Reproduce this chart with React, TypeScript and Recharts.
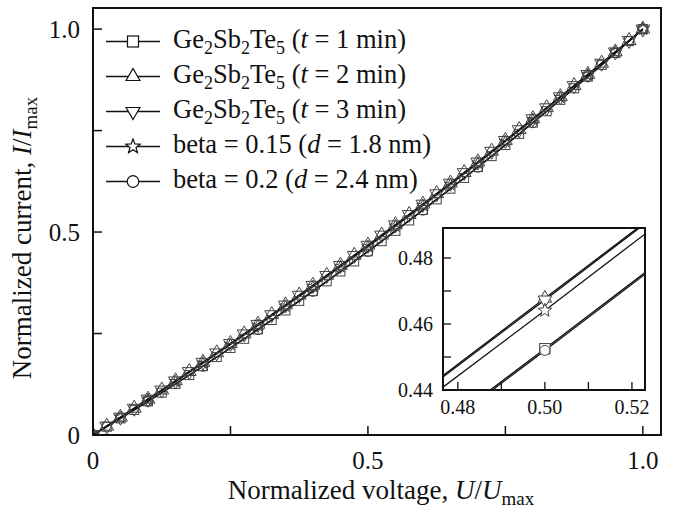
import React from 'react';
import { LineChart, Line, XAxis, YAxis, ReferenceArea } from 'recharts';

const SERIF = "'Liberation Serif', 'Times New Roman', Tinos, serif";
const INK = '#111';
const MARK = '#444';

// ---------- data (normalized voltage U/Umax, normalized current I/Imax) ----------
const voltageFine = [0, 0.025, 0.05, 0.075, 0.1, 0.125, 0.15, 0.175, 0.2, 0.225, 0.25, 0.275, 0.3, 0.325, 0.35, 0.375, 0.4, 0.425, 0.45, 0.475, 0.5, 0.525, 0.55, 0.575, 0.6, 0.625, 0.65, 0.675, 0.7, 0.725, 0.75, 0.775, 0.8, 0.825, 0.85, 0.875, 0.9, 0.925, 0.95, 0.975, 1.0];
const voltageHalf = [0, 0.05, 0.1, 0.15, 0.2, 0.25, 0.3, 0.35, 0.4, 0.45, 0.5, 0.55, 0.6, 0.65, 0.7, 0.75, 0.8, 0.85, 0.9, 0.95, 1.0];
const voltageTenth = [0, 0.1, 0.2, 0.3, 0.4, 0.5, 0.6, 0.7, 0.8, 0.9, 1.0];

const currentT1 = [0, 0.0204, 0.041, 0.0618, 0.0829, 0.1042, 0.1258, 0.1476, 0.1696, 0.1919, 0.2144, 0.2371, 0.2601, 0.2833, 0.3068, 0.3305, 0.3544, 0.3786, 0.403, 0.4276, 0.4525, 0.4776, 0.503, 0.5286, 0.5544, 0.5805, 0.6068, 0.6333, 0.6601, 0.6871, 0.7144, 0.7419, 0.7696, 0.7976, 0.8258, 0.8542, 0.8829, 0.9118, 0.941, 0.9704, 1.0];
const currentT2 = [0, 0.0219, 0.0439, 0.0661, 0.0884, 0.1109, 0.1336, 0.1564, 0.1794, 0.2025, 0.2258, 0.2493, 0.2729, 0.2967, 0.3207, 0.3448, 0.369, 0.3935, 0.4181, 0.4428, 0.4678, 0.4928, 0.5181, 0.5435, 0.569, 0.5948, 0.6207, 0.6467, 0.6729, 0.6993, 0.7258, 0.7525, 0.7794, 0.8064, 0.8336, 0.8609, 0.8884, 0.9161, 0.9439, 0.9719, 1.0];
const currentT3 = [0, 0.0218, 0.0438, 0.0659, 0.0882, 0.1107, 0.1333, 0.1561, 0.1791, 0.2022, 0.2255, 0.2489, 0.2725, 0.2963, 0.3202, 0.3443, 0.3686, 0.393, 0.4176, 0.4424, 0.4673, 0.4924, 0.5176, 0.543, 0.5686, 0.5943, 0.6202, 0.6463, 0.6725, 0.6989, 0.7255, 0.7522, 0.7791, 0.8061, 0.8333, 0.8607, 0.8882, 0.9159, 0.9438, 0.9718, 1.0];
const currentBeta015 = [0, 0.0432, 0.0871, 0.1317, 0.177, 0.2231, 0.2698, 0.3173, 0.3655, 0.4145, 0.4641, 0.5145, 0.5655, 0.6173, 0.6698, 0.7231, 0.777, 0.8317, 0.8871, 0.9432, 1.0];
const currentBeta02 = [0, 0.0827, 0.1693, 0.2597, 0.3539, 0.452, 0.5539, 0.6597, 0.7693, 0.8827, 1.0];

const mainXTicks = [0, 0.25, 0.5, 0.75, 1.0];
const mainYTicks = [0, 0.25, 0.5, 0.75, 1.0];
const mainTickLabels: [number, string][] = [[0, '0'], [0.5, '0.5'], [1.0, '1.0']];
const insetXTicks = [0.48, 0.49, 0.5, 0.51, 0.52];
const insetYTicks = [0.44, 0.45, 0.46, 0.47, 0.48];
const insetXLabels: [number, string][] = [[0.48, '0.48'], [0.5, '0.50'], [0.52, '0.52']];
const insetYLabels: [number, string][] = [[0.44, '0.44'], [0.46, '0.46'], [0.48, '0.48']];

const MAIN_X_DOMAIN: [number, number] = [0, 1.033];
const MAIN_Y_DOMAIN: [number, number] = [0, 1.052];
const INSET_X_DOMAIN: [number, number] = [0.4766, 0.523];
const INSET_Y_DOMAIN: [number, number] = [0.44, 0.4891];

type Shape = 'square' | 'up' | 'down' | 'star' | 'circle';

const zip = (xs: number[], ys: number[]) => xs.map((x, i) => ({ x, y: ys[i] }));

const series: { key: string; shape: Shape; rows: { x: number; y: number }[] }[] = [
  { key: 't1', shape: 'square', rows: zip(voltageFine, currentT1) },
  { key: 't2', shape: 'up', rows: zip(voltageFine, currentT2) },
  { key: 't3', shape: 'down', rows: zip(voltageFine, currentT3) },
  { key: 'b015', shape: 'star', rows: zip(voltageHalf, currentBeta015) },
  { key: 'b02', shape: 'circle', rows: zip(voltageTenth, currentBeta02) },
];

const mainSize: Record<Shape, number> = { square: 4.5, up: 8, down: 8, star: 6.5, circle: 5 };
const insetSize: Record<Shape, number> = { square: 5.2, up: 7.8, down: 7.8, star: 7.2, circle: 5.0 };
const legendSize: Record<Shape, number> = { square: 5.5, up: 8, down: 8, star: 7.5, circle: 5.8 };

function markerEl(shape: Shape, cx: number, cy: number, s: number, fill: string, stroke: string, sw: number, key?: string) {
  const common = { fill, stroke, strokeWidth: sw };
  switch (shape) {
    case 'square':
      return <rect key={key} x={cx - s} y={cy - s} width={2 * s} height={2 * s} {...common} />;
    case 'circle':
      return <circle key={key} cx={cx} cy={cy} r={s} {...common} />;
    case 'up': {
      const pts = `${cx},${cy - s} ${cx + s * 0.866},${cy + s * 0.5} ${cx - s * 0.866},${cy + s * 0.5}`;
      return <polygon key={key} points={pts} {...common} />;
    }
    case 'down': {
      const pts = `${cx},${cy + s} ${cx + s * 0.866},${cy - s * 0.5} ${cx - s * 0.866},${cy - s * 0.5}`;
      return <polygon key={key} points={pts} {...common} />;
    }
    case 'star': {
      const pts: string[] = [];
      for (let i = 0; i < 10; i++) {
        const r = i % 2 === 0 ? s : s * 0.42;
        const a = -Math.PI / 2 + (i * Math.PI) / 5;
        pts.push(`${cx + r * Math.cos(a)},${cy + r * Math.sin(a)}`);
      }
      return <polygon key={key} points={pts.join(' ')} {...common} />;
    }
  }
  return null;
}

const makeDot = (shape: Shape, size: number, fill: string, range?: [number, number]) => (props: any) => {
  const { cx, cy, payload, index } = props;
  const k = `dot-${shape}-${index}`;
  if (cx == null || cy == null) return <g key={k} />;
  if (range && (payload.x < range[0] || payload.x > range[1])) return <g key={k} />;
  return markerEl(shape, cx, cy, size, fill, MARK, 1, k) as any;
};

const lookup = (v: number, labels: [number, string][]) => {
  const f = labels.find(([k]) => Math.abs(k - v) < 1e-9);
  return f ? f[1] : '';
};

const txt = { fontFamily: SERIF, fill: INK } as const;

const MainXTick = (props: any) => {
  const { x, y, payload } = props;
  const label = lookup(payload.value, mainTickLabels);
  return (
    <g>
      <line x1={x} y1={y} x2={x} y2={y - 9} stroke={INK} strokeWidth={1.5} />
      {label ? (
        <text x={x} y={y + 34} textAnchor="middle" fontSize={25} style={txt}>{label}</text>
      ) : null}
    </g>
  );
};

const MainYTick = (props: any) => {
  const { x, y, payload } = props;
  const label = lookup(payload.value, mainTickLabels);
  return (
    <g>
      <line x1={x} y1={y} x2={x + 9} y2={y} stroke={INK} strokeWidth={1.5} />
      {label ? (
        <text x={x - 13} y={y + 8.5} textAnchor="end" fontSize={25} style={txt}>{label}</text>
      ) : null}
    </g>
  );
};

const InsetXTick = (props: any) => {
  const { x, y, payload } = props;
  const label = lookup(payload.value, insetXLabels);
  return (
    <g>
      <line x1={x} y1={y} x2={x} y2={y - 8} stroke={INK} strokeWidth={1.3} />
      {label ? (
        <text x={x} y={y + 24} textAnchor="middle" fontSize={20} style={txt}>{label}</text>
      ) : null}
    </g>
  );
};

const InsetYTick = (props: any) => {
  const { x, y, payload } = props;
  const label = lookup(payload.value, insetYLabels);
  return (
    <g>
      <line x1={x} y1={y} x2={x + 8} y2={y} stroke={INK} strokeWidth={1.3} />
      {label ? (
        <text x={x - 10} y={y + 7} textAnchor="end" fontSize={20} style={txt}>{label}</text>
      ) : null}
    </g>
  );
};

const legendEntries: { shape: Shape; kind: 'gst' | 'beta'; a: string; b: string }[] = [
  { shape: 'square', kind: 'gst', a: 't', b: '1 min' },
  { shape: 'up', kind: 'gst', a: 't', b: '2 min' },
  { shape: 'down', kind: 'gst', a: 't', b: '3 min' },
  { shape: 'star', kind: 'beta', a: '0.15', b: '1.8 nm' },
  { shape: 'circle', kind: 'beta', a: '0.2', b: '2.4 nm' },
];

const LEG_FS = 26.5;
const SUB_FS = 18;

function LegendText({ e, x, y }: { e: (typeof legendEntries)[number]; x: number; y: number }) {
  if (e.kind === 'gst') {
    return (
      <text x={x} y={y} fontSize={LEG_FS} style={txt}>
        <tspan>Ge</tspan>
        <tspan dy={6} fontSize={SUB_FS}>2</tspan>
        <tspan dy={-6}>Sb</tspan>
        <tspan dy={6} fontSize={SUB_FS}>2</tspan>
        <tspan dy={-6}>Te</tspan>
        <tspan dy={6} fontSize={SUB_FS}>5</tspan>
        <tspan dy={-6}>{' ('}</tspan>
        <tspan fontStyle="italic">{e.a}</tspan>
        <tspan>{' = ' + e.b + ')'}</tspan>
      </text>
    );
  }
  return (
    <text x={x} y={y} fontSize={LEG_FS} style={txt}>
      <tspan>{'beta = ' + e.a + ' ('}</tspan>
      <tspan fontStyle="italic">d</tspan>
      <tspan>{' = ' + e.b + ')'}</tspan>
    </text>
  );
}

function LegendOverlay() {
  return (
    <svg width={460} height={200} style={{ position: 'absolute', left: 0, top: 0 }}>
      {legendEntries.map((e, i) => {
        const by = 48 + 35 * i;
        const sy = by - 6.5;
        return (
          <g key={i}>
            <line x1={106} y1={sy} x2={160} y2={sy} stroke={INK} strokeWidth={1.5} />
            {markerEl(e.shape, 133, sy, legendSize[e.shape], '#fff', INK, 1.2)}
            <LegendText e={e} x={173} y={by} />
          </g>
        );
      })}
    </svg>
  );
}

function AxisTitles() {
  return (
    <svg width={673} height={508} style={{ position: 'absolute', left: 0, top: 0, pointerEvents: 'none' }}>
      <text x={381} y={499} textAnchor="middle" fontSize={27} style={txt}>
        <tspan>Normalized voltage, </tspan>
        <tspan fontStyle="italic">U</tspan>
        <tspan>/</tspan>
        <tspan fontStyle="italic">U</tspan>
        <tspan dy={6} fontSize={19}>max</tspan>
      </text>
      <text x={31} y={238} transform="rotate(-90, 31, 238)" textAnchor="middle" fontSize={27} style={txt}>
        <tspan>Normalized current, </tspan>
        <tspan fontStyle="italic">I</tspan>
        <tspan>/</tspan>
        <tspan fontStyle="italic">I</tspan>
        <tspan dy={6} fontSize={19}>max</tspan>
      </text>
    </svg>
  );
}

function MainChart() {
  return (
    <LineChart width={673} height={508} margin={{ top: 8, right: 12, bottom: 43, left: 33 }}>
      <XAxis
        type="number"
        dataKey="x"
        domain={MAIN_X_DOMAIN}
        allowDataOverflow
        ticks={mainXTicks}
        interval={0}
        tickSize={0}
        tickMargin={0}
        tickLine={false}
        axisLine={false}
        height={30}
        tick={<MainXTick />}
      />
      <YAxis
        type="number"
        domain={MAIN_Y_DOMAIN}
        allowDataOverflow
        ticks={mainYTicks}
        interval={0}
        tickSize={0}
        tickMargin={0}
        tickLine={false}
        axisLine={false}
        width={60}
        tick={<MainYTick />}
      />
      <ReferenceArea x1={MAIN_X_DOMAIN[0]} x2={MAIN_X_DOMAIN[1]} y1={MAIN_Y_DOMAIN[0]} y2={MAIN_Y_DOMAIN[1]} fill="none" stroke={INK} strokeWidth={2} ifOverflow="visible" />
      {series.map((s) => (
        <Line
          key={s.key}
          data={s.rows}
          dataKey="y"
          type="monotone"
          stroke={INK}
          strokeWidth={1.4}
          dot={makeDot(s.shape, mainSize[s.shape], 'none')}
          activeDot={false}
          isAnimationActive={false}
        />
      ))}
    </LineChart>
  );
}

function InsetChart() {
  return (
    <div style={{ position: 'absolute', left: 373, top: 210 }}>
      <LineChart width={292} height={220} margin={{ top: 18, right: 20, bottom: 10, left: 10 }}>
        <XAxis
          type="number"
          dataKey="x"
          domain={INSET_X_DOMAIN}
          allowDataOverflow
          ticks={insetXTicks}
          interval={0}
          tickSize={0}
          tickMargin={0}
          tickLine={false}
          axisLine={false}
          height={30}
          tick={<InsetXTick />}
        />
        <YAxis
          type="number"
          domain={INSET_Y_DOMAIN}
          allowDataOverflow
          ticks={insetYTicks}
          interval={0}
          tickSize={0}
          tickMargin={0}
          tickLine={false}
          axisLine={false}
          width={60}
          tick={<InsetYTick />}
        />
        <ReferenceArea x1={INSET_X_DOMAIN[0]} x2={INSET_X_DOMAIN[1]} y1={INSET_Y_DOMAIN[0]} y2={INSET_Y_DOMAIN[1]} fill="none" stroke={INK} strokeWidth={2} ifOverflow="visible" />
        {series.map((s) => (
          <Line
            key={s.key}
            data={s.rows}
            dataKey="y"
            type="monotone"
            stroke={INK}
            strokeWidth={1.3}
            dot={makeDot(s.shape, insetSize[s.shape], '#fff', INSET_X_DOMAIN)}
            activeDot={false}
            isAnimationActive={false}
          />
        ))}
      </LineChart>
    </div>
  );
}

export default function App() {
  return (
    <div style={{ position: 'absolute', left: 0, top: 0, width: 673, height: 508, background: '#fff', fontFamily: SERIF, overflow: 'hidden' }}>
      <MainChart />
      <InsetChart />
      <LegendOverlay />
      <AxisTitles />
    </div>
  );
}
